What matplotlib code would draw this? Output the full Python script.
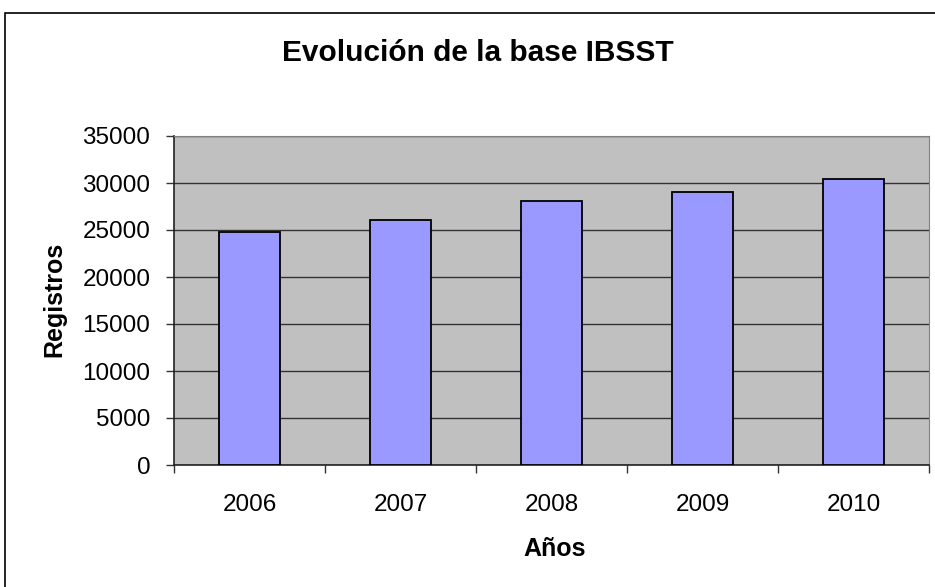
import numpy as np
import matplotlib
matplotlib.use("Agg")
import matplotlib.pyplot as plt
from matplotlib.patches import Rectangle

years = ['2006', '2007', '2008', '2009', '2010']
registros = [24800, 26100, 28100, 29000, 30400]

plt.rcParams['font.family'] = ['Liberation Sans', 'DejaVu Sans']

W, H = 935, 587
fig = plt.figure(figsize=(W / 100, H / 100), dpi=100)
ax = fig.add_axes([174 / W, 1 - 465 / H, (929 - 174) / W, (465 - 136) / H])

x = np.arange(len(years))
ax.set_facecolor('#C0C0C0')
ax.set_axisbelow(True)
ax.yaxis.grid(True, color='#333333', linewidth=1)
ax.bar(x, registros, width=0.41, color='#9999FF', edgecolor='black', linewidth=1.3, zorder=3)

ax.set_xlim(-0.5, len(years) - 0.5)
ax.set_ylim(0, 35000)
ax.set_yticks(np.arange(0, 35001, 5000))
ax.set_xticks(x)
ax.set_xticklabels(years)
ax.set_xticks(np.arange(-0.5, len(years), 1), minor=True)
ax.tick_params(axis='x', which='major', length=0, pad=21, labelsize=17.5)
ax.tick_params(axis='x', which='minor', length=6, width=1, color='#333333')
ax.tick_params(axis='y', length=6, width=1, pad=11, labelsize=17.5, color='#333333')

for side in ['top', 'right']:
    ax.spines[side].set_color('#808080')
for side in ['left', 'bottom']:
    ax.spines[side].set_color('#222222')
    ax.spines[side].set_linewidth(1.2)

fig.text(478 / W, 1 - 53 / H, 'Evolución de la base IBSST', fontsize=21.5, fontweight='bold',
         ha='center', va='center')
fig.text(555 / W, 1 - 549 / H, 'Años', fontsize=18, fontweight='bold', ha='center', va='center')
fig.text(54 / W, 1 - 299 / H, 'Registros', fontsize=18, fontweight='bold', ha='center', va='center',
         rotation=90)

# outer chart frame
fig.patches.append(Rectangle((5 / W, -0.1), 1.2, 1 - 13 / H + 0.1, transform=fig.transFigure,
                             fill=False, edgecolor='black', linewidth=1.2))

fig.savefig('out.png', dpi=100)
